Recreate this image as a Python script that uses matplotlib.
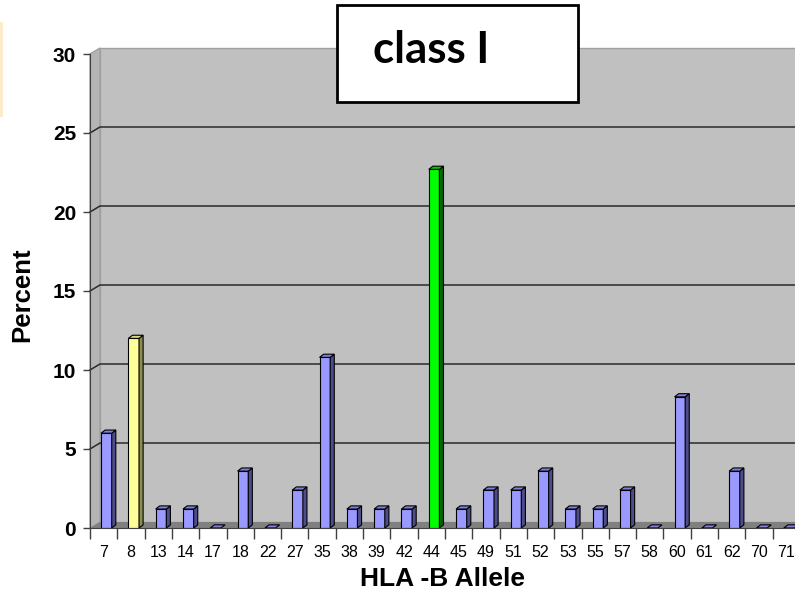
import matplotlib
matplotlib.use("Agg")
import matplotlib.pyplot as plt
from matplotlib.patches import Polygon, Rectangle

# HLA-B allele frequencies (percent)
alleles = ['7', '8', '13', '14', '17', '18', '22', '27', '35', '38', '39', '42', '44',
           '45', '49', '51', '52', '53', '55', '57', '58', '60', '61', '62', '70', '71']
percent = [6.0, 12.0, 1.2, 1.2, 0.0, 3.6, 0.0, 2.4, 10.8, 1.2, 1.2, 1.2, 22.7,
           1.2, 2.4, 2.4, 3.6, 1.2, 1.2, 2.4, 0.0, 8.3, 0.0, 3.6, 0.0, 0.0]
highlight = {'8': 'yellow', '44': 'green'}
yticks = [0, 5, 10, 15, 20, 25, 30]

# front, side, top colours
palette = {
    'blue': ('#9999ff', '#4d4d8c', '#8080d8'),
    'yellow': ('#ffff99', '#8c8c55', '#d8d880'),
    'green': ('#00ff00', '#006600', '#00c800'),
}

fig = plt.figure(figsize=(7.95, 6.01), dpi=100)
ax = fig.add_axes([90 / 795, 73 / 601, 710 / 795, 474 / 601])
ax.set_facecolor('none')
n = len(alleles)
ax.set_xlim(-0.5, n - 0.5)
ax.set_ylim(0, 30)

# 3d depth of the box (data units)
ddx, ddy = 0.366, 0.38
xl = -0.5
xr = n + 1

# back wall, left wall, floor
ax.add_patch(Rectangle((xl + ddx, ddy), xr - xl, 30, facecolor='#c0c0c0',
                       edgecolor='#a0a0a0', lw=1, zorder=0, clip_on=False))
ax.add_patch(Polygon([(xl, 0), (xl + ddx, ddy), (xl + ddx, 30 + ddy), (xl, 30)],
                     closed=True, facecolor='#b4b4b4', edgecolor='#a0a0a0',
                     lw=1, zorder=0.5, clip_on=False))
ax.add_patch(Polygon([(xl, 0), (xr, 0), (xr, ddy), (xl + ddx, ddy)], closed=True,
                     facecolor='#808080', edgecolor='none', zorder=0.6, clip_on=False))

for yv in yticks[1:-1]:
    ax.plot([xl, xl + ddx, xr], [yv, yv + ddy, yv + ddy], color='#2a2a2a', lw=1.1,
            zorder=1, clip_on=False)

# bars
bw = 0.39
sdx, sdy = 0.15, 0.2
x0s = [i + 0.1 - bw / 2 for i in range(n)]
for i, (a, v) in enumerate(zip(alleles, percent)):
    front, side, top = palette[highlight.get(a, 'blue')]
    x0 = x0s[i]
    x1 = x0 + bw
    if v > 0:
        ax.bar(x0, v, width=bw, align='edge', color=front, edgecolor='black',
               lw=0.8, zorder=3)
        ax.add_patch(Polygon([(x1, 0), (x1 + sdx, sdy), (x1 + sdx, v + sdy), (x1, v)],
                             closed=True, facecolor=side, edgecolor='black', lw=0.8,
                             zorder=3))
    ax.add_patch(Polygon([(x0, v), (x1, v), (x1 + sdx, v + sdy), (x0 + sdx, v + sdy)],
                         closed=True, facecolor=top, edgecolor='black', lw=0.8,
                         zorder=3, clip_on=False))

# axes
for s in ['top', 'right']:
    ax.spines[s].set_visible(False)
ax.spines['left'].set_color('#404040')
ax.spines['bottom'].set_color('#404040')
ax.spines['left'].set_zorder(4)
ax.spines['bottom'].set_zorder(4)

ax.set_yticks(yticks)
ax.set_yticklabels([str(t) for t in yticks], fontsize=15, fontweight='bold',
                   family='Liberation Sans')
ax.tick_params(axis='y', length=5, width=1, color='#404040', pad=5)

ax.set_xticks(range(n))
ax.set_xticklabels(alleles, fontsize=11.5, family='Liberation Sans')
ax.set_xticks([i + 0.5 for i in range(-1, n)], minor=True)
ax.tick_params(axis='x', which='major', length=0, pad=12)
ax.tick_params(axis='x', which='minor', length=8, width=1, color='#404040')

fig.text(22 / 795, 1 - 295 / 601, 'Percent', rotation=90, ha='center', va='center',
         fontsize=18.5, fontweight='bold', family='Liberation Sans')
fig.text(443 / 795, 1 - 579 / 601, 'HLA -B Allele', ha='center', va='center',
         fontsize=19, fontweight='bold', family='Liberation Sans')

# title box
fig.patches.append(Rectangle((337 / 795, 1 - 102 / 601), 241 / 795, 97 / 601,
                             transform=fig.transFigure, facecolor='white',
                             edgecolor='black', lw=2, zorder=5))
fig.text(373 / 795, 1 - 63 / 601, 'class I', ha='left', va='baseline', fontsize=31.5,
         fontweight='bold', family='Lato', zorder=6)

# beige strip at the left edge
fig.patches.append(Rectangle((0, 1 - 117 / 601), 3 / 795, 95 / 601,
                             transform=fig.transFigure, facecolor='#fdeccc',
                             edgecolor='none'))

fig.savefig('out.png', dpi=100)
